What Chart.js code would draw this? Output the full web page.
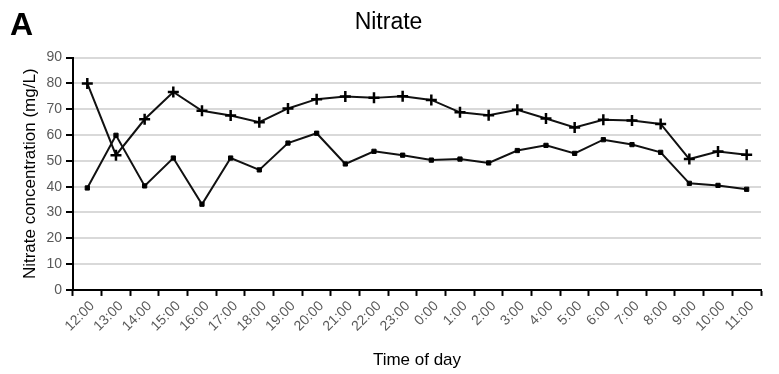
<!DOCTYPE html>
<html>
<head>
<meta charset="utf-8">
<script src="https://cdn.jsdelivr.net/npm/chart.js@4/dist/chart.umd.min.js"></script>
<style>
  html, body { margin: 0; padding: 0; background: #fff; }
  #wrap { width: 779px; height: 374px; position: relative; }
</style>
</head>
<body>
<div id="wrap"><canvas id="c" width="779" height="374"></canvas></div>
<script>
// Hourly sampling times over one day
const times = ["12:00","13:00","14:00","15:00","16:00","17:00","18:00","19:00","20:00","21:00","22:00","23:00",
               "0:00","1:00","2:00","3:00","4:00","5:00","6:00","7:00","8:00","9:00","10:00","11:00"];

// Nitrate concentration (mg/L), series drawn with plus markers
const nitratePlus = [80, 52.2, 66.1, 76.7, 69.4, 67.6, 65.0, 70.3, 73.9, 74.9, 74.4, 75.0,
                     73.6, 68.8, 67.7, 69.8, 66.4, 62.9, 65.9, 65.6, 64.3, 50.7, 53.6, 52.4];

// Nitrate concentration (mg/L), series drawn with square markers
const nitrateSquare = [39.5, 59.9, 40.3, 51.1, 33.2, 51.1, 46.5, 56.9, 60.7, 48.8, 53.7, 52.2,
                       50.3, 50.7, 49.2, 54.0, 56.0, 52.9, 58.2, 56.3, 53.3, 41.3, 40.5, 39.0];

const yTicks = [0, 10, 20, 30, 40, 50, 60, 70, 80, 90];

const FONT = '"Liberation Sans", Arial, sans-serif';

// Panel letter in the top-left corner
const panelLetter = {
  id: 'panelLetter',
  afterDraw(chart) {
    const ctx = chart.ctx;
    ctx.save();
    ctx.font = 'bold 32px ' + FONT;
    ctx.fillStyle = '#000';
    ctx.textBaseline = 'alphabetic';
    ctx.fillText('A', 10, 35);
    ctx.restore();
  }
};

new Chart(document.getElementById('c'), {
  type: 'line',
  data: {
    labels: times,
    datasets: [
      {
        data: nitratePlus,
        borderColor: '#111',
        borderWidth: 2,
        pointStyle: 'cross',
        pointRadius: 5.5,
        pointBorderWidth: 2.5,
        pointBorderColor: '#000',
        pointBackgroundColor: '#000',
        tension: 0
      },
      {
        data: nitrateSquare,
        borderColor: '#111',
        borderWidth: 2,
        pointStyle: 'rect',
        pointRadius: 3,
        pointBorderWidth: 1,
        pointBorderColor: '#000',
        pointBackgroundColor: '#000',
        tension: 0
      }
    ]
  },
  options: {
    responsive: false,
    animation: false,
    devicePixelRatio: 1,
    layout: { padding: { left: 16, right: 18, top: 5, bottom: 3 } },
    plugins: {
      legend: { display: false },
      tooltip: { enabled: false },
      title: {
        display: true,
        text: 'Nitrate',
        color: '#000',
        font: { family: FONT, size: 23, weight: 'normal' },
        padding: { top: 4, bottom: 21 }
      }
    },
    scales: {
      x: {
        type: 'category',
        offset: true,
        grid: {
          offset: true,
          drawOnChartArea: false,
          drawTicks: true,
          tickLength: 6,
          tickColor: '#000',
          tickWidth: 2
        },
        border: { display: true, color: '#000', width: 2 },
        ticks: {
          color: '#595959',
          font: { family: FONT, size: 14 },
          maxRotation: 45,
          minRotation: 45,
          autoSkip: false,
          labelOffset: 5,
          padding: 2
        },
        title: {
          display: true,
          text: 'Time of day',
          color: '#000',
          font: { family: FONT, size: 17 },
          padding: { top: 14, bottom: 0 }
        }
      },
      y: {
        min: 0,
        max: 90,
        afterBuildTicks(axis) { axis.ticks = yTicks.map(v => ({ value: v })); },
        grid: {
          color: '#d9d9d9',
          lineWidth: 2,
          drawTicks: true,
          tickLength: 7,
          tickColor: '#000',
          tickWidth: 2
        },
        border: { display: true, color: '#000', width: 2 },
        ticks: {
          color: '#595959',
          font: { family: FONT, size: 14 },
          padding: 4
        },
        title: {
          display: true,
          text: 'Nitrate concentration (mg/L)',
          color: '#000',
          font: { family: FONT, size: 17 },
          padding: { top: 4, bottom: 2 }
        }
      }
    }
  },
  plugins: [panelLetter]
});
</script>
</body>
</html>
